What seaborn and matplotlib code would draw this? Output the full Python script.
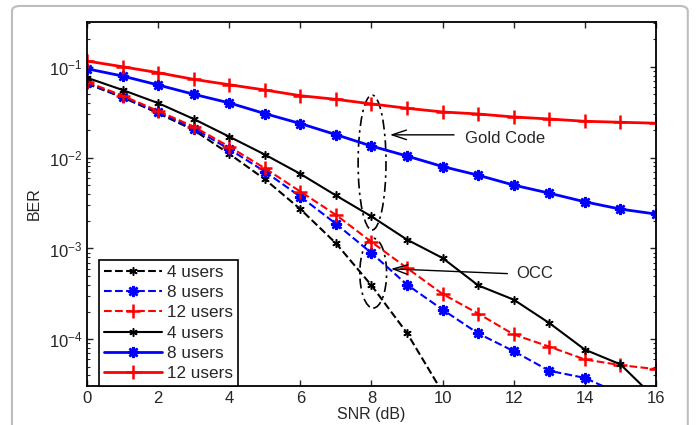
import numpy as np
import pandas as pd
import matplotlib
matplotlib.use('Agg')
import matplotlib.pyplot as plt
import seaborn as sns
from matplotlib.patches import Ellipse, FancyBboxPatch

# SNR axis (dB)
snr = np.arange(0, 17)

# OCC (dashed) curves
occ_4 = [0.065, 0.046, 0.0308, 0.0201, 0.011, 0.00578, 0.00271, 0.00114, 0.000392, 0.000117, 2.6e-5,
         np.nan, np.nan, np.nan, np.nan, np.nan, np.nan]
occ_8 = [0.066, 0.047, 0.0316, 0.0209, 0.0124, 0.00702, 0.00372, 0.00187, 0.00089, 0.000399, 0.000212,
         0.000116, 7.4e-5, 4.5e-5, 3.76e-5, 2.5e-5, 1.5e-5]
occ_12 = [0.068, 0.048, 0.0326, 0.0219, 0.0132, 0.00764, 0.00423, 0.00234, 0.00118, 0.000608, 0.000315,
          0.000192, 0.000113, 8.3e-5, 6.0e-5, 5.2e-5, 4.7e-5]

# Gold code (solid) curves
gold_4 = [0.0757, 0.0555, 0.0398, 0.0266, 0.017, 0.0108, 0.00662, 0.00383, 0.00225, 0.00125, 0.000784,
          0.000392, 0.000273, 0.000151, 7.7e-5, 5.3e-5, 2.2e-5]
gold_8 = [0.095, 0.079, 0.063, 0.0498, 0.040, 0.0305, 0.0237, 0.0179, 0.0134, 0.0104, 0.00797,
          0.0064, 0.00498, 0.00406, 0.00326, 0.00271, 0.00239]
gold_12 = [0.1156, 0.1, 0.086, 0.0727, 0.0634, 0.0555, 0.048, 0.0438, 0.039, 0.0349, 0.0318,
           0.0302, 0.028, 0.0266, 0.0251, 0.0245, 0.0239]

labels = ['4 users', '8 users', '12 users', '4 users', '8 users', '12 users']

sns.set_style('ticks')
plt.rcParams['font.family'] = ['Liberation Sans', 'DejaVu Sans']
plt.rcParams['mathtext.default'] = 'regular'
plt.rcParams['font.size'] = 11.5

fig = plt.figure(figsize=(6.96, 4.25), dpi=100)
ax = fig.add_axes([0.125, 0.092, 0.8175, 0.856])

# card border around the figure
border = FancyBboxPatch((0.0172, -0.3), 0.971, 1.286, transform=fig.transFigure,
                        boxstyle='round,pad=0,rounding_size=0.012', fill=False,
                        edgecolor='#bdbdbd', linewidth=1.5, zorder=-1)
fig.patches.append(border)

black_m = (6, 2, 0)
blue_m = (8, 2, 0)
dash = (4, 2.5)

# values, colour, style, marker, size, edge width, line width
series = [
    (occ_4, 'black', '--', black_m, 6, 1.1, 1.5),
    (occ_8, 'blue', '--', blue_m, 8, 1.8, 1.5),
    (occ_12, 'red', '--', '+', 10, 1.8, 1.5),
    (gold_4, 'black', '-', black_m, 6, 1.1, 1.5),
    (gold_8, 'blue', '-', blue_m, 8, 1.8, 2.0),
    (gold_12, 'red', '-', '+', 10, 1.8, 2.0),
]

for (vals, col, ls, mk, ms, mew, lw), lab in zip(series, labels):
    df = pd.DataFrame({'snr': snr, 'ber': vals})
    kw = dict(dashes=dash) if ls == '--' else {}
    sns.lineplot(data=df, x='snr', y='ber', ax=ax, color=col, linestyle=ls, marker=mk,
                 markersize=ms, markeredgewidth=mew, linewidth=lw, label=lab,
                 markeredgecolor=col, **kw)

ax.set_yscale('log')
ax.set_xlim(0, 16)
ax.set_ylim(3.07e-5, 0.31)
ax.set_xticks(np.arange(0, 17, 2))
ax.set_xlabel('SNR (dB)', fontsize=11.5, labelpad=1)
ax.set_ylabel('BER', fontsize=11.5, labelpad=5)
ax.tick_params(which='both', direction='in', top=True, right=True, labelsize=12)
ax.tick_params(which='major', length=4, width=1)
ax.tick_params(which='minor', length=2.5, width=0.8)
for s in ax.spines.values():
    s.set_linewidth(1.3)
    s.set_color('black')

# ellipses grouping curves
ax.add_patch(Ellipse((0.501, 0.614), 0.049, 0.371, transform=ax.transAxes, fill=False,
                     linestyle=(0, (6, 2.5, 1.5, 2.5)), edgecolor='black', linewidth=1.2))
ax.add_patch(Ellipse((0.503, 0.310), 0.047, 0.192, transform=ax.transAxes, fill=False,
                     linestyle=(0, (6, 2.5, 1.5, 2.5)), edgecolor='black', linewidth=1.2))

ax.annotate('', xy=(8.44, 0.0178), xytext=(10.4, 0.0178),
            arrowprops=dict(arrowstyle='->,head_length=0.9,head_width=0.3', color='black', lw=1.0))
ax.text(10.63, 0.0164, 'Gold Code', fontsize=12, va='center', ha='left')
ax.annotate('', xy=(8.47, 5.98e-4), xytext=(11.9, 5.27e-4),
            arrowprops=dict(arrowstyle='->,head_length=0.9,head_width=0.3', color='black', lw=1.0))
ax.text(12.06, 5.35e-4, 'OCC', fontsize=12, va='center', ha='left')

leg = ax.legend(loc='lower left', bbox_to_anchor=(0.021, 0.0), borderaxespad=0,
                fancybox=False, framealpha=1, edgecolor='black', fontsize=12.3,
                handlelength=3.4, handletextpad=0.3, labelspacing=0.3, borderpad=0.3)
leg.get_frame().set_linewidth(1.2)

fig.savefig('out.png', dpi=100)
